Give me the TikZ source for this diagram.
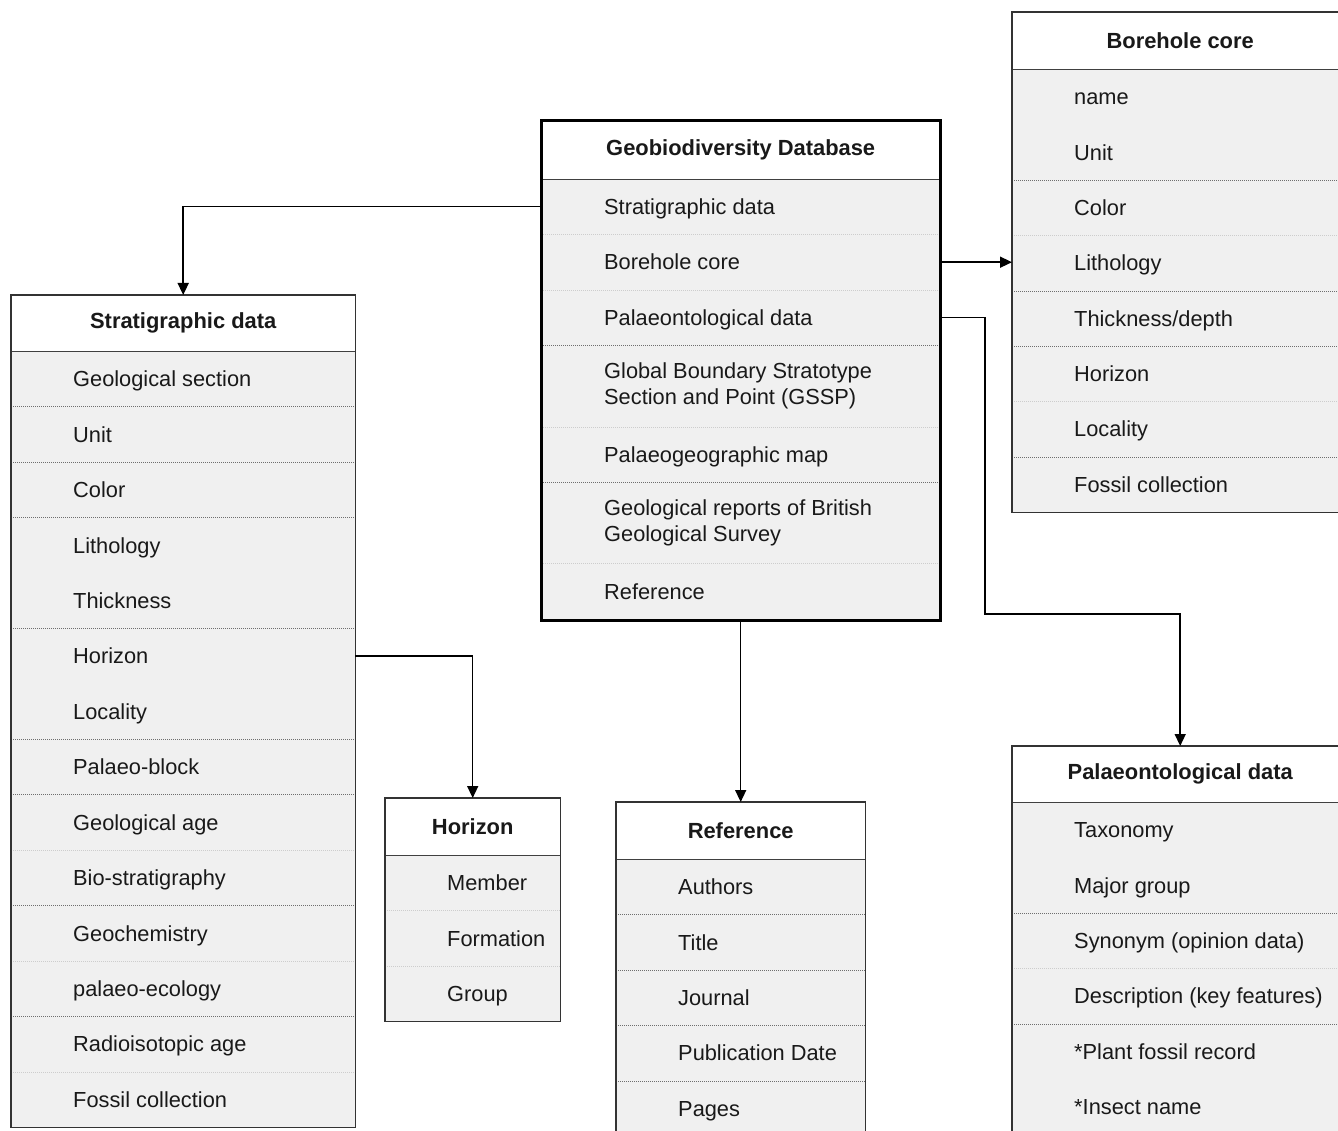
\documentclass[tikz,border=0pt]{standalone}
\usepackage{fontspec}
\setmainfont{Liberation Sans}
\usetikzlibrary{arrows.meta,calc}
\definecolor{rowfill}{RGB}{240,240,240}
\definecolor{sepdark}{RGB}{110,110,110}
\definecolor{seplight}{RGB}{205,205,205}
\definecolor{inkc}{RGB}{25,25,25}
\tikzset{
  hdr/.style={draw=none, fill=white, inner sep=0pt, anchor=north west, font=\fontsize{21.9}{26}\selectfont\bfseries, text=inkc},
  rowbox/.style={draw=none, fill=rowfill, inner sep=0pt, anchor=north west},
  itemtext/.style={anchor=base west, inner sep=0pt, font=\fontsize{21.8}{26}\selectfont, text=inkc, align=left},
  itemtwo/.style={anchor=west, inner sep=0pt, font=\fontsize{21.8}{26}\selectfont, text=inkc, align=left},
  sepd/.style={draw=sepdark, line width=0.8pt, dash pattern=on 1pt off 1pt},
  sepl/.style={draw=seplight, line width=0.8pt, dash pattern=on 1pt off 1pt},
  hline/.style={draw=black!75, line width=1.6pt},
  boxline/.style={draw=black!80, line width=1.4pt},
  thickbox/.style={draw=black, line width=3pt},
  conn/.style={draw=black, line width=1.5pt, -{Triangle[length=12pt,width=11pt]}},
}
\begin{document}
\begin{tikzpicture}[x=1pt,y=-1pt]
\useasboundingbox (0,0) rectangle (1338,1131);
\clip (0,0) rectangle (1338,1131);

% ---------------- Stratigraphic data ----------------
\node[hdr, minimum width=344pt, minimum height=56pt] (S) at (11,295) {Stratigraphic data};
\foreach \t [count=\i] in {Geological section,Unit,Color,Lithology,Thickness,Horizon,Locality,Palaeo-block,Geological age,Bio-stratigraphy,Geochemistry,palaeo-ecology,Radioisotopic age,Fossil collection}{
  \node[rowbox, minimum width=344pt, minimum height=55.43pt] (S\i) at (11,{351+(\i-1)*55.43}) {};
  \node[itemtext] (S\i t) at ($(S\i.west)+(62,7.8)$) {\t};
}
\foreach \i in {1,2,3,5,7,8,10,12}{\draw[sepd] (S\i.south west) -- (S\i.south east);}
\foreach \i in {9,11,13}{\draw[sepl] (S\i.south west) -- (S\i.south east);}
\draw[hline] (S.south west) -- (S.south east);
\draw[boxline] (S.north west) rectangle (S14.south east);

% ---------------- Geobiodiversity Database ----------------
\node[hdr, minimum width=399pt, minimum height=58pt] (G) at (541,121) {Geobiodiversity Database};
\node[rowbox, minimum width=399pt, minimum height=55pt] (G1) at (541,179) {};
\node[rowbox, minimum width=399pt, minimum height=56pt] (G2) at (541,234) {};
\node[rowbox, minimum width=399pt, minimum height=55pt] (G3) at (541,290) {};
\node[rowbox, minimum width=399pt, minimum height=82pt] (G4) at (541,345) {};
\node[rowbox, minimum width=399pt, minimum height=55pt] (G5) at (541,427) {};
\node[rowbox, minimum width=399pt, minimum height=81pt] (G6) at (541,482) {};
\node[rowbox, minimum width=399pt, minimum height=57pt] (G7) at (541,563) {};
\node[itemtext] (G1t) at ($(G1.west)+(63,7.8)$) {Stratigraphic data};
\node[itemtext] (G2t) at ($(G2.west)+(63,7.8)$) {Borehole core};
\node[itemtext] (G3t) at ($(G3.west)+(63,7.8)$) {Palaeontological data};
\node[itemtwo] (G4t) at ($(G4.west)+(63,0)$) {Global Boundary Stratotype\\Section and Point (GSSP)};
\node[itemtext] (G5t) at ($(G5.west)+(63,7.8)$) {Palaeogeographic map};
\node[itemtwo] (G6t) at ($(G6.west)+(63,0)$) {Geological reports of British\\Geological Survey};
\node[itemtext] (G7t) at ($(G7.west)+(63,7.8)$) {Reference};
\foreach \i in {1,2,4,6}{\draw[sepl] (G\i.south west) -- (G\i.south east);}
\foreach \i in {3,5}{\draw[sepd] (G\i.south west) -- (G\i.south east);}
\draw[hline] (G.south west) -- (G.south east);
\draw[thickbox] (G.north west) rectangle (G7.south east);

% ---------------- Borehole core ----------------
\node[hdr, minimum width=336pt, minimum height=57pt] (B) at (1012,12) {Borehole core};
\foreach \t [count=\i] in {name,Unit,Color,Lithology,Thickness/depth,Horizon,Locality,Fossil collection}{
  \node[rowbox, minimum width=336pt, minimum height=55.38pt] (B\i) at (1012,{69+(\i-1)*55.38}) {};
  \node[itemtext] (B\i t) at ($(B\i.west)+(62,7.8)$) {\t};
}
\foreach \i in {2,4,5,7}{\draw[sepd] (B\i.south west) -- (B\i.south east);}
\foreach \i in {3,6}{\draw[sepl] (B\i.south west) -- (B\i.south east);}
\draw[hline] (B.south west) -- (B.south east);
\draw[boxline] (B.north west) rectangle (B8.south east);

% ---------------- Horizon ----------------
\node[hdr, minimum width=175pt, minimum height=57pt] (H) at (385,798) {Horizon};
\foreach \t [count=\i] in {Member,Formation,Group}{
  \node[rowbox, minimum width=175pt, minimum height=55.33pt] (H\i) at (385,{855+(\i-1)*55.33}) {};
  \node[itemtext] (H\i t) at ($(H\i.west)+(62,7.8)$) {\t};
}
\foreach \i in {1,2}{\draw[sepl] (H\i.south west) -- (H\i.south east);}
\draw[hline] (H.south west) -- (H.south east);
\draw[boxline] (H.north west) rectangle (H3.south east);

% ---------------- Reference ----------------
\node[hdr, minimum width=249pt, minimum height=57pt] (R) at (616,802) {Reference};
\foreach \t [count=\i] in {Authors,Title,Journal,Publication Date,Pages}{
  \node[rowbox, minimum width=249pt, minimum height=55.4pt] (R\i) at (616,{859+(\i-1)*55.4}) {};
  \node[itemtext] (R\i t) at ($(R\i.west)+(62,7.8)$) {\t};
}
\foreach \i in {1,2,3,4}{\draw[sepd] (R\i.south west) -- (R\i.south east);}
\draw[hline] (R.south west) -- (R.south east);
\draw[boxline] (R.north west) rectangle ($(R5.south east)+(0,10)$);

% ---------------- Palaeontological data ----------------
\node[hdr, minimum width=336pt, minimum height=56pt] (P) at (1012,746) {Palaeontological data};
\foreach \t [count=\i] in {Taxonomy,Major group,Synonym (opinion data),Description (key features),*Plant fossil record,*Insect name}{
  \node[rowbox, minimum width=336pt, minimum height=55.4pt] (P\i) at (1012,{802+(\i-1)*55.4}) {};
  \node[itemtext] (P\i t) at ($(P\i.west)+(62,7.8)$) {\t};
}
\foreach \i in {2,4}{\draw[sepd] (P\i.south west) -- (P\i.south east);}
\foreach \i in {3}{\draw[sepl] (P\i.south west) -- (P\i.south east);}
\draw[hline] (P.south west) -- (P.south east);
\draw[boxline] (P.north west) rectangle ($(P6.south east)+(0,10)$);

% ---------------- Connectors ----------------
\coordinate (pbend) at (985,614);
\draw[conn] (G1.west) -| (S.north);
\draw[conn] (G2.east) -- (G2.east -| B.west);
\draw[conn] (G3.east) -| (pbend) -| (P.north);
\draw[conn] (G7.south) -- (R.north);
\draw[conn] (S6.east) -| (H.north);
\end{tikzpicture}
\end{document}
